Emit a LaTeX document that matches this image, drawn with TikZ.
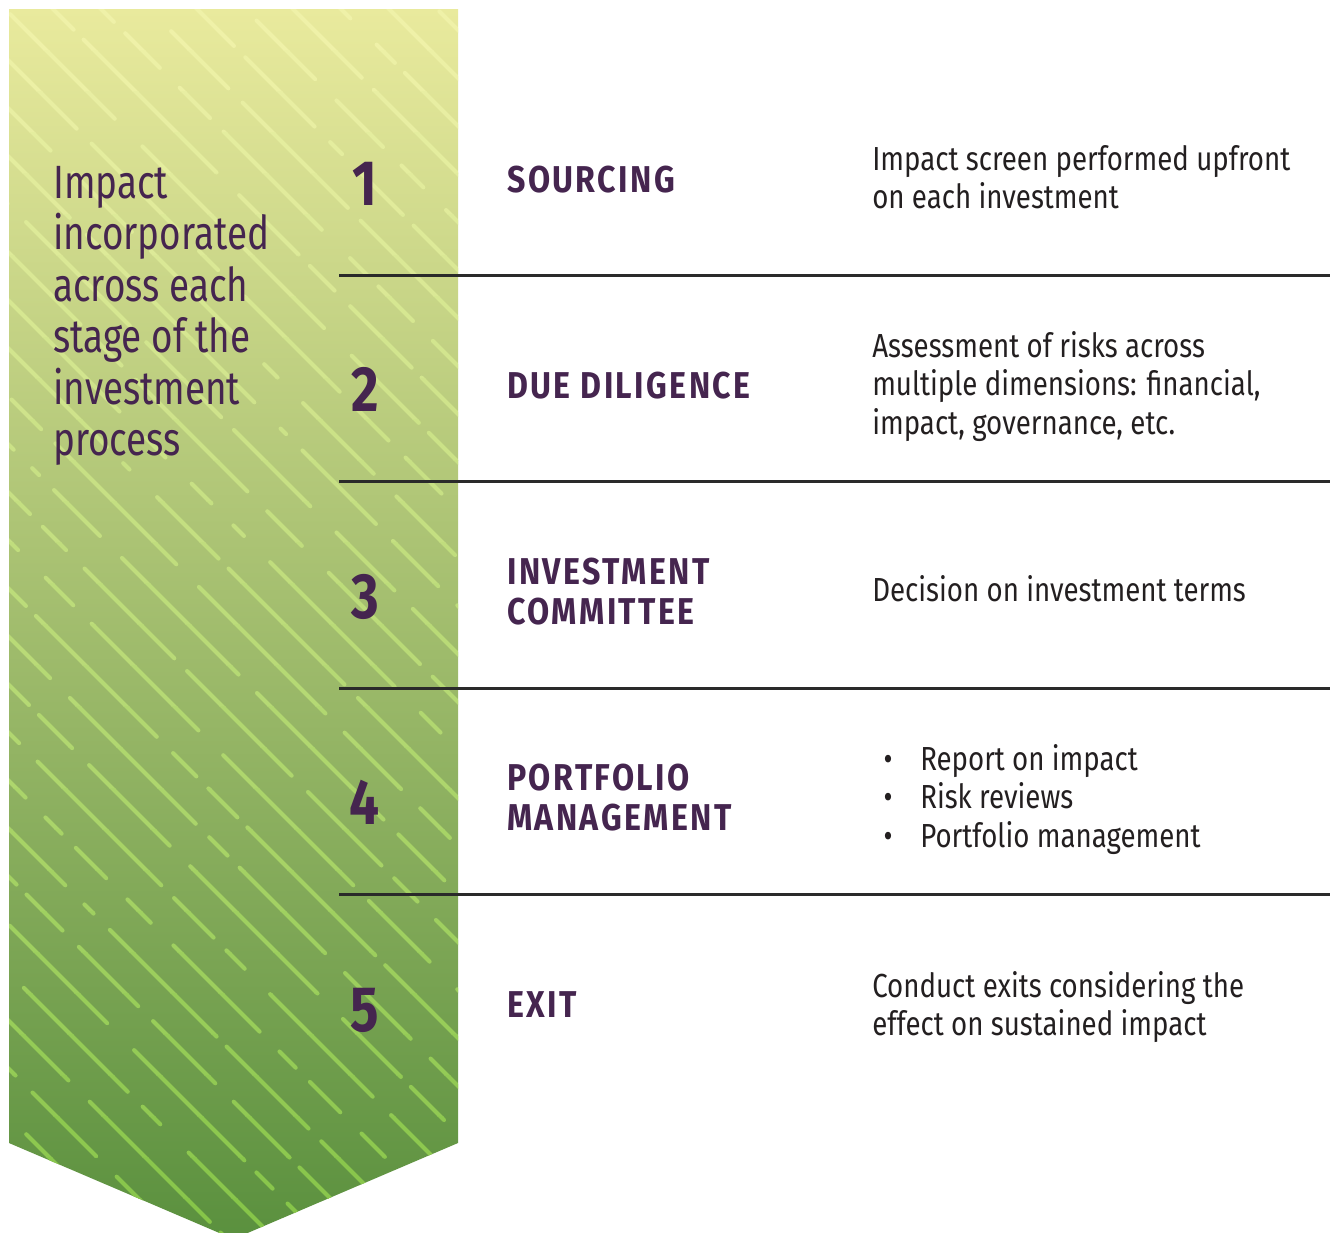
\documentclass[tikz,border=0pt]{standalone}
\usepackage{fontspec}
\setmainfont{Fira Sans}[FakeStretch=0.83]
\newfontfamily\capfont{Fira Sans}[FakeStretch=0.79]
\newfontfamily\headfont{Fira Sans}[FakeStretch=0.86, LetterSpace=6.5]

\definecolor{plum}{HTML}{45254F}
\definecolor{ink}{HTML}{231F20}
\definecolor{rulegray}{HTML}{2A2A2A}
\definecolor{bandtop}{HTML}{E9EA9D}
\definecolor{bandmid}{HTML}{A8BF72}
\definecolor{bandbot}{HTML}{5A903E}
\definecolor{dashtop}{HTML}{F1F2AA}
\definecolor{dashbot}{HTML}{84C447}

\tikzset{
  stagerule/.style={draw=rulegray, line width=2pt},
  lefttext/.style={anchor=base west, inner sep=0pt, text=plum, font=\capfont\fontsize{35}{38}\selectfont},
  stagenum/.style={anchor=base, inner sep=0pt, text=plum, font=\fontsize{48}{50}\selectfont\bfseries},
  stagetitle/.style={anchor=base west, inner sep=0pt, text=plum, font=\headfont\fontsize{28}{30}\selectfont\bfseries},
  desc/.style={anchor=base west, inner sep=0pt, text=ink, font=\fontsize{25}{29}\selectfont},
  bulletmark/.style={anchor=base, inner sep=0pt, text=ink, font=\fontsize{25}{29}\selectfont},
}

\newcommand{\bannershape}{(9,9) -- (458,9) -- (458,1143) -- (233.5,1239) -- (9,1143) -- cycle}

\begin{document}
\begin{tikzpicture}[x=0.75pt, y=-0.75pt]
\useasboundingbox (0,0) rectangle (1330,1232);
\fill[white] (0,0) rectangle (1330,1232);
\begin{scope}
\clip (0,0) rectangle (1330,1232);

% gradient banner
\shade[top color=bandtop, middle color=bandmid, bottom color=bandbot] \bannershape;

% diagonal dashes, coloured band by band from top to bottom
\foreach \s in {0,...,29}{
  \pgfmathsetmacro\ya{9+\s*41}
  \pgfmathsetmacro\yb{\ya+41.5}
  \pgfmathsetmacro\pc{(\s+0.5)/30*100}
  \colorlet{dashcol}{dashbot!\pc!dashtop}
  \begin{scope}
    \clip \bannershape;
    \clip (0,\ya) rectangle (1330,\yb);
    \pgfmathsetseed{4711}
    \foreach \c in {-1300,-1252,...,470}{
      \pgfmathsetmacro\da{0.75*random(10,190)}
      \pgfmathsetmacro\ga{0.75*random(14,40)}
      \pgfmathsetmacro\db{0.75*random(10,190)}
      \pgfmathsetmacro\gb{0.75*random(14,40)}
      \pgfmathsetmacro\dc{0.75*random(4,120)}
      \pgfmathsetmacro\gc{0.75*random(14,40)}
      \pgfmathsetmacro\dd{0.75*random(20,190)}
      \pgfmathsetmacro\gd{0.75*random(14,40)}
      \pgfmathsetmacro\ph{0.75*random(0,400)}
      \draw[dashcol, line width=3pt, line cap=round,
            dash pattern={on \da pt off \ga pt on \db pt off \gb pt on \dc pt off \gc pt on \dd pt off \gd pt},
            dash phase=\ph pt]
        (\c,0) -- ++(1300,1300);
    }
  \end{scope}
}
\end{scope}

% stage separators
\foreach \y [count=\i] in {275.5,481.7,688.3,894.3}{
  \coordinate (rs\i) at (339,\y);
  \coordinate (re\i) at (1330,\y);
  \draw[stagerule] (rs\i) -- (re\i);
}

% banner caption
\foreach \t/\y [count=\i] in {Impact/198, incorporated/249.5, across each/301, stage of the/352.5, investment/404, process/455.5}{
  \node[lefttext] (cap\i) at (53,\y) {\t};
}

% stage numbers
\foreach \n/\y in {1/205, 2/411.5, 3/618, 4/824.5, 5/1031}{
  \node[stagenum] (num\n) at (365,\y) {\n};
}

% stage titles
\node[stagetitle] (t1) at (507,192) {SOURCING};
\node[stagetitle] (t2) at (507,398) {DUE DILIGENCE};
\node[stagetitle] (t3a) at (507,584.5) {INVESTMENT};
\node[stagetitle] (t3b) at (507,624.5) {COMMITTEE};
\node[stagetitle] (t4a) at (507,790.5) {PORTFOLIO};
\node[stagetitle] (t4b) at (507,830.5) {MANAGEMENT};
\node[stagetitle] (t5) at (507,1017.5) {EXIT};

% descriptions
\node[desc] (d1a) at (872,170) {Impact screen performed upfront};
\node[desc] (d1b) at (872,208.5) {on each investment};
\node[desc] (d2a) at (872,357) {Assessment of risks across};
\node[desc] (d2b) at (872,395.5) {multiple dimensions: financial,};
\node[desc] (d2c) at (872,434) {impact, governance, etc.};
\node[desc] (d3) at (872,601) {Decision on investment terms};
\foreach \t/\y [count=\i] in {Report on impact/770, Risk reviews/808.5, Portfolio management/847}{
  \node[bulletmark] (b\i) at (888,\y) {•};
  \node[desc] (d4\i) at (920,\y) {\t};
}
\node[desc] (d5a) at (872,997) {Conduct exits considering the};
\node[desc] (d5b) at (872,1035) {effect on sustained impact};
\end{tikzpicture}
\end{document}
